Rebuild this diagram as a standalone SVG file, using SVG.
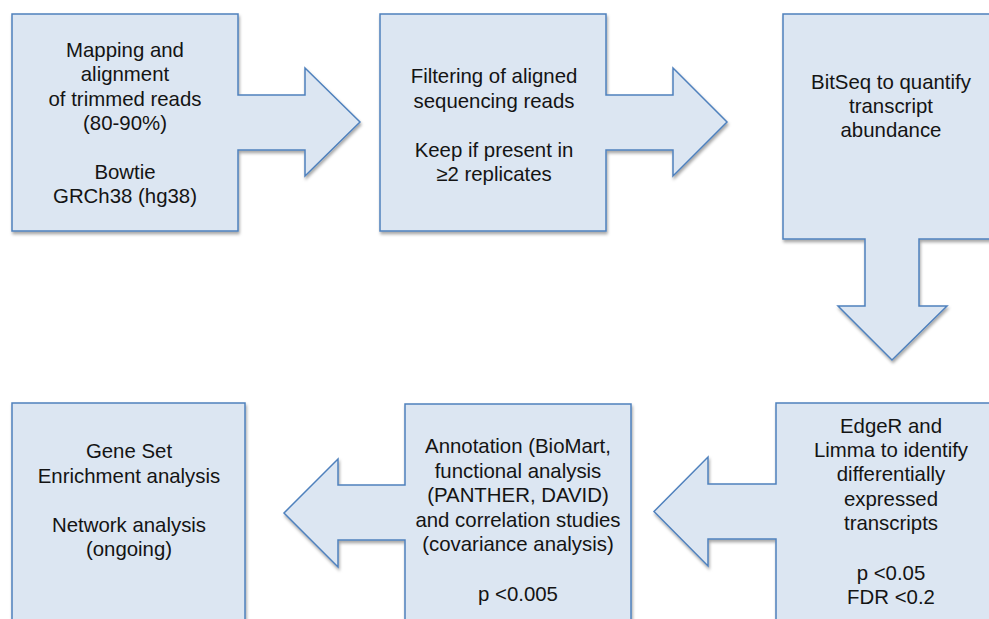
<svg xmlns="http://www.w3.org/2000/svg" width="989" height="619" viewBox="0 0 989 619">
<defs>
<filter id="sh" x="-10%" y="-10%" width="120%" height="120%">
<feDropShadow dx="1" dy="2.5" stdDeviation="1.6" flood-color="#000" flood-opacity="0.35"/>
</filter>
<style>
.s{fill:#dce6f2;stroke:#4f81bd;stroke-width:1.5;filter:url(#sh)}
.t{font-family:"Liberation Sans",Arial,Helvetica,sans-serif;font-size:20.4px;fill:#141414;text-anchor:middle}
</style>
</defs>
<rect width="989" height="619" fill="#fff"/>
<g id="n1">
<path class="s" d="M12,14 H238 V95 H305 V68 L360,122 L305,176 V150 H238 V231 H12 Z"/>
<text class="t"><tspan x="125" y="57">Mapping and</tspan><tspan x="125" y="81.4">alignment</tspan><tspan x="125" y="105.8">of trimmed reads</tspan><tspan x="125" y="130.2">(80-90%)</tspan><tspan x="125" y="179">Bowtie</tspan><tspan x="125" y="203.4">GRCh38 (hg38)</tspan></text>
</g>
<g id="n2">
<path class="s" d="M380,14 H606 V95 H673 V68 L727,122 L673,176 V150 H606 V231 H380 Z"/>
<text class="t"><tspan x="494" y="83.3">Filtering of aligned</tspan><tspan x="494" y="107.7">sequencing reads</tspan><tspan x="494" y="156.5">Keep if present in</tspan><tspan x="494" y="180.9">≥2 replicates</tspan></text>
</g>
<g id="n3">
<path class="s" d="M783,14 H1001 V239 H919 V306 H947 L892,360 L838,306 H865 V239 H783 Z"/>
<text class="t"><tspan x="891" y="88.5">BitSeq to quantify</tspan><tspan x="891" y="112.9">transcript</tspan><tspan x="891" y="137.3">abundance</tspan></text>
</g>
<g id="n4">
<path class="s" d="M776,403 H1006 V640 H776 V539 H708 V566 L654,511.5 L708,457 V484 H776 Z"/>
<text class="t"><tspan x="891" y="432.5">EdgeR and</tspan><tspan x="891" y="456.9">Limma to identify</tspan><tspan x="891" y="481.3">differentially</tspan><tspan x="891" y="505.7">expressed</tspan><tspan x="891" y="530.1">transcripts</tspan><tspan x="891" y="579.5">p &lt;0.05</tspan><tspan x="891" y="603.5">FDR &lt;0.2</tspan></text>
</g>
<g id="n5">
<path class="s" d="M405,404 H631 V640 H405 V540 H338 V567 L284,513 L338,459 V485 H405 Z"/>
<text class="t"><tspan x="518" y="453.3">Annotation (BioMart,</tspan><tspan x="518" y="477.7">functional analysis</tspan><tspan x="518" y="502.1">(PANTHER, DAVID)</tspan><tspan x="518" y="526.5">and correlation studies</tspan><tspan x="518" y="550.9">(covariance analysis)</tspan><tspan x="518" y="600.5">p &lt;0.005</tspan></text>
</g>
<g id="n6">
<path class="s" d="M12,403 H245 V640 H12 Z"/>
<text class="t"><tspan x="129" y="458.3">Gene Set</tspan><tspan x="129" y="482.7">Enrichment analysis</tspan><tspan x="129" y="531.5">Network analysis</tspan><tspan x="129" y="555.9">(ongoing)</tspan></text>
</g>
<g id="connectors"></g>
</svg>
